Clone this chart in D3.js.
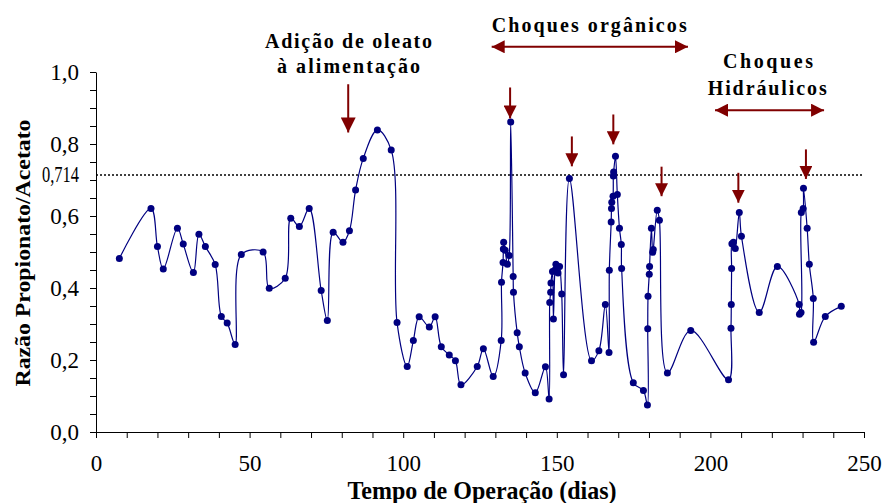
<!DOCTYPE html>
<html>
<head>
<meta charset="utf-8">
<script src="https://cdn.jsdelivr.net/npm/d3@7"></script>
<style>
  html, body { margin: 0; padding: 0; background: #fff; }
  svg { display: block; }
</style>
</head>
<body>
<svg id="chart" width="882" height="503"></svg>
<script>
// Operating time (days) of each sample
const days = [
  7.6, 17.9, 20.0, 21.9, 26.5, 28.4, 31.7, 33.5, 35.6, 38.8,
  40.8, 42.7, 45.3, 47.3, 54.4, 56.4, 61.6, 63.4, 66.2, 69.4,
  73.3, 75.3, 77.2, 80.4, 82.5, 84.5, 87.0, 91.6, 96.1, 98.0,
  101.3, 103.3, 105.2, 108.5, 110.4, 112.4, 115.0, 117.0, 118.8, 124.1,
  126.1, 129.3, 131.9, 132.0, 132.5, 132.6, 132.7, 133.2, 133.9, 134.5,
  135.0, 135.8, 135.9, 137.1, 137.8, 139.7, 143.0, 146.3, 147.5, 147.7,
  148.0, 148.1, 148.6, 148.9, 149.4, 149.7, 150.4, 150.9, 151.6, 152.2,
  154.1, 161.3, 163.7, 165.8, 167.0, 167.1, 167.7, 167.8, 167.9, 168.3,
  168.4, 168.5, 169.1, 169.7, 170.4, 171.0, 171.1, 174.9, 178.2, 179.5,
  179.6, 179.7, 180.1, 180.2, 180.8, 181.2, 181.4, 182.7, 183.4, 186.0,
  193.6, 205.9, 206.7, 206.8, 206.9, 207.0, 207.5, 208.1, 209.4, 210.1,
  215.9, 221.8, 228.9, 229.0, 229.5, 229.6, 230.2, 230.3, 231.5, 232.2,
  233.5, 233.6, 237.4, 242.6
];

// Propionate/acetate ratio measured on those days
const ratio = [
  0.482, 0.621, 0.515, 0.453, 0.566, 0.522, 0.443, 0.549, 0.515, 0.465,
  0.321, 0.303, 0.243, 0.493, 0.500, 0.399, 0.427, 0.594, 0.571, 0.621,
  0.393, 0.310, 0.555, 0.527, 0.559, 0.672, 0.760, 0.839, 0.783, 0.304,
  0.182, 0.254, 0.320, 0.292, 0.320, 0.237, 0.214, 0.198, 0.131, 0.182,
  0.231, 0.154, 0.254, 0.416, 0.471, 0.508, 0.527, 0.505, 0.466, 0.490,
  0.861, 0.432, 0.388, 0.276, 0.237, 0.164, 0.109, 0.181, 0.092, 0.360,
  0.388, 0.414, 0.446, 0.314, 0.450, 0.466, 0.442, 0.460, 0.383, 0.159,
  0.704, 0.198, 0.226, 0.354, 0.221, 0.449, 0.583, 0.621, 0.638, 0.655,
  0.711, 0.722, 0.766, 0.660, 0.566, 0.521, 0.454, 0.137, 0.115, 0.075,
  0.287, 0.377, 0.438, 0.460, 0.566, 0.499, 0.507, 0.616, 0.588, 0.164,
  0.282, 0.145, 0.288, 0.354, 0.454, 0.523, 0.527, 0.510, 0.610, 0.544,
  0.332, 0.460, 0.354, 0.327, 0.332, 0.610, 0.621, 0.677, 0.566, 0.466,
  0.371, 0.249, 0.321, 0.349
];

// Reference ratio (dotted line)
const limitValue = 0.714;
const limitLabel = "0,714";

// Axis ticks
const xMajorTicks = [0, 50, 100, 150, 200, 250];
const xMinorStep = 10;
const yMajorTicks = [0.0, 0.2, 0.4, 0.6, 0.8, 1.0];
const yMinorStep = 0.05;

const xTitle = "Tempo de Operação (dias)";
const yTitle = "Razão Propionato/Acetato";

// Event markers: day, arrow top value, arrow tip value
const shockArrows = [
  [134.8, 0.957, 0.871],
  [154.9, 0.821, 0.738],
  [168.4, 0.882, 0.799],
  [184.1, 0.737, 0.655],
  [209.1, 0.720, 0.637],
  [231.1, 0.785, 0.703]
];
const oleateArrow = [82.1, 0.966, 0.832];

// Period spans: start day, end day, value level
const organicSpan = [128.8, 192.7, 1.07];
const hydraulicSpan = [201.5, 237.0, 0.894];

const serif = "'Liberation Serif', 'Times New Roman', Times, serif";
const lineColor = "#000080";
const arrowColor = "#800000";

const svg = d3.select("#chart");

const x = d3.scaleLinear().domain([0, 250]).range([96, 864]);
const y = d3.scaleLinear().domain([0, 1]).range([432, 72]);

const fmt = v => d3.format(".1f")(v).replace(".", ",");

// Arrowhead markers
const defs = svg.append("defs");
function addHead(id, orient) {
  defs.append("marker")
    .attr("id", id)
    .attr("viewBox", "0 0 10 10")
    .attr("refX", 10).attr("refY", 5)
    .attr("markerUnits", "userSpaceOnUse")
    .attr("markerWidth", 13).attr("markerHeight", 13)
    .attr("orient", orient)
    .append("path")
    .attr("d", "M0,0 L10,5 L0,10 Z")
    .attr("fill", arrowColor);
}
addHead("head", "auto");
addHead("headStart", "auto-start-reverse");
defs.append("marker")
  .attr("id", "headBig")
  .attr("viewBox", "0 0 10 10")
  .attr("refX", 10).attr("refY", 5)
  .attr("markerUnits", "userSpaceOnUse")
  .attr("markerWidth", 16).attr("markerHeight", 15)
  .attr("orient", "auto")
  .append("path")
  .attr("d", "M0,0 L10,5 L0,10 Z")
  .attr("fill", arrowColor);

// Y axis
const yTickVals = d3.range(0, 1 + 1e-9, yMinorStep).map(v => +v.toFixed(2));
const yAxis = d3.axisLeft(y)
  .tickValues(yTickVals)
  .tickSize(6)
  .tickSizeOuter(0)
  .tickFormat(v => yMajorTicks.some(t => Math.abs(t - v) < 1e-6) ? fmt(v) : "");
const gy = svg.append("g").attr("transform", `translate(${x(0)},0)`).call(yAxis);
gy.select(".domain").attr("stroke", "#000").attr("stroke-width", 1);
gy.selectAll(".tick line").attr("stroke", "#000");
gy.selectAll(".tick text")
  .attr("x", -17)
  .attr("font-family", serif)
  .attr("font-size", 23)
  .attr("fill", "#000");

// X axis
const xTickVals = d3.range(0, 251, xMinorStep);
const xAxis = d3.axisBottom(x)
  .tickValues(xTickVals)
  .tickSize(6)
  .tickSizeOuter(0)
  .tickFormat(v => xMajorTicks.includes(v) ? String(v) : "");
const gx = svg.append("g").attr("transform", `translate(0,${y(0)})`).call(xAxis);
gx.select(".domain").attr("stroke", "#000").attr("stroke-width", 1);
gx.selectAll(".tick line").attr("stroke", "#000");
gx.selectAll(".tick text")
  .attr("y", 39).attr("dy", 0)
  .attr("font-family", serif)
  .attr("font-size", 23)
  .attr("fill", "#000");

// Reference ratio
svg.append("line")
  .attr("x1", x(0)).attr("x2", x(250))
  .attr("y1", y(limitValue)).attr("y2", y(limitValue))
  .attr("stroke", "#000")
  .attr("stroke-width", 1.5)
  .attr("stroke-dasharray", "2,2");
svg.append("text")
  .attr("x", 79).attr("y", y(limitValue))
  .attr("dy", "0.32em")
  .attr("text-anchor", "end")
  .attr("font-family", serif)
  .attr("font-size", 23)
  .attr("textLength", 37)
  .attr("lengthAdjust", "spacingAndGlyphs")
  .text(limitLabel);

// Series
const points = days.map((d, i) => ({ d, v: ratio[i] }));
const line = d3.line()
  .x(p => x(p.d))
  .y(p => y(p.v))
  .curve(d3.curveCatmullRom.alpha(0.5));
svg.append("path")
  .datum(points)
  .attr("d", line)
  .attr("fill", "none")
  .attr("stroke", lineColor)
  .attr("stroke-width", 1.2);
svg.append("g")
  .selectAll("circle")
  .data(points)
  .join("circle")
  .attr("cx", p => x(p.d))
  .attr("cy", p => y(p.v))
  .attr("r", 3.5)
  .attr("fill", lineColor);

// Axis titles
svg.append("text")
  .attr("transform", `translate(29.5,253) rotate(-90)`)
  .attr("text-anchor", "middle")
  .attr("font-family", serif)
  .attr("font-weight", "bold")
  .attr("font-size", 22)
  .attr("textLength", 267)
  .attr("lengthAdjust", "spacingAndGlyphs")
  .text(yTitle);
svg.append("text")
  .attr("x", 482).attr("y", 499)
  .attr("text-anchor", "middle")
  .attr("font-family", serif)
  .attr("font-weight", "bold")
  .attr("font-size", 25)
  .attr("textLength", 269)
  .attr("lengthAdjust", "spacingAndGlyphs")
  .text(xTitle);

// Annotations
function label(txt, cx, baseline, width) {
  svg.append("text")
    .attr("x", cx).attr("y", baseline)
    .attr("text-anchor", "middle")
    .attr("font-family", serif)
    .attr("font-weight", "bold")
    .attr("font-size", 20)
    .attr("textLength", width)
    .attr("lengthAdjust", "spacing")
    .attr("fill", "#000")
    .text(txt);
}
label("Adição de oleato", 348.5, 47.7, 167);
label("à alimentação", 348.5, 73.3, 143);
label("Choques orgânicos", 589.2, 31.7, 195);
label("Choques", 768, 68.3, 90);
label("Hidráulicos", 767.2, 95, 119);

svg.append("line")
  .attr("x1", x(oleateArrow[0])).attr("x2", x(oleateArrow[0]))
  .attr("y1", y(oleateArrow[1])).attr("y2", y(oleateArrow[2]))
  .attr("stroke", arrowColor).attr("stroke-width", 2)
  .attr("marker-end", "url(#headBig)");

svg.append("g")
  .selectAll("line")
  .data(shockArrows)
  .join("line")
  .attr("x1", a => x(a[0])).attr("x2", a => x(a[0]))
  .attr("y1", a => y(a[1])).attr("y2", a => y(a[2]))
  .attr("stroke", arrowColor).attr("stroke-width", 2)
  .attr("marker-end", "url(#head)");

svg.append("g")
  .selectAll("line")
  .data([organicSpan, hydraulicSpan])
  .join("line")
  .attr("x1", s => x(s[0])).attr("x2", s => x(s[1]))
  .attr("y1", s => y(s[2])).attr("y2", s => y(s[2]))
  .attr("stroke", arrowColor).attr("stroke-width", 2)
  .attr("marker-start", "url(#headStart)")
  .attr("marker-end", "url(#head)");
</script>
</body>
</html>
